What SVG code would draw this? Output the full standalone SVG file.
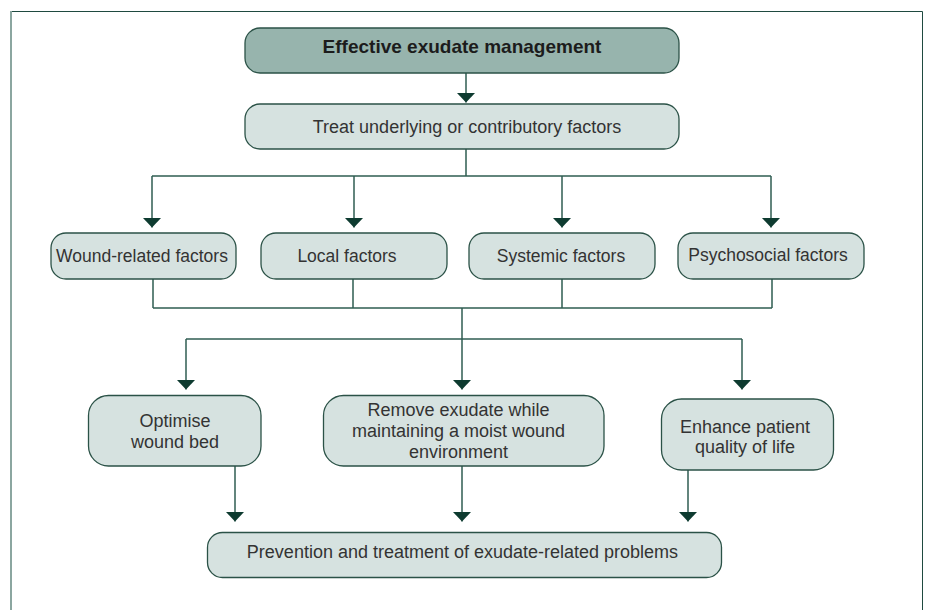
<svg xmlns="http://www.w3.org/2000/svg" width="928" height="610" viewBox="0 0 928 610">
<style>
  .node { fill: #d6e2e0; stroke: #2b5247; stroke-width: 1.3; }
  .title { fill: #97b4ad; stroke: #2b5247; stroke-width: 1.3; }
  .t { font-family: "Liberation Sans", Arial, sans-serif; font-size: 18px; fill: #333333; text-anchor: middle; }
  .tf { font-size: 17.5px; }
  .tb { font-family: "Liberation Sans", Arial, sans-serif; font-size: 19px; font-weight: bold; fill: #1c1c1c; text-anchor: middle; }
  .c { fill: none; stroke: #2f5d52; stroke-width: 1.5; }
</style>
<defs>
  <marker id="ah" viewBox="0 0 10 19" refX="10" refY="9.5" markerWidth="10" markerHeight="19" markerUnits="userSpaceOnUse" orient="auto">
    <path d="M0,0 L10,9.5 L0,19 Z" fill="#0e3b30"/>
  </marker>
</defs>
<rect width="928" height="610" fill="#ffffff"/>
<g id="frame">
  <path d="M11,11.5 H922.5 V610" fill="none" stroke="#1f4a40" stroke-width="1"/>
  <path d="M11,11 V610" fill="none" stroke="#8ba6a0" stroke-width="2"/>
</g>
<g id="connectors">
  <path class="c" d="M466,73 V102.5" marker-end="url(#ah)"/>
  <path class="c" d="M466,149 V176 M152,176 H771"/>
  <path class="c" d="M152,176 V227.5" marker-end="url(#ah)"/>
  <path class="c" d="M354,176 V227.5" marker-end="url(#ah)"/>
  <path class="c" d="M562,176 V227.5" marker-end="url(#ah)"/>
  <path class="c" d="M771,176 V227.5" marker-end="url(#ah)"/>
  <path class="c" d="M153,279 V308 M353,279 V308 M562,279 V308 M772,279 V308 M153,308 H772"/>
  <path class="c" d="M462,308 V389.5" marker-end="url(#ah)"/>
  <path class="c" d="M186,339 H742"/>
  <path class="c" d="M186,339 V389.5" marker-end="url(#ah)"/>
  <path class="c" d="M742,339 V389.5" marker-end="url(#ah)"/>
  <path class="c" d="M235,466 V521.5" marker-end="url(#ah)"/>
  <path class="c" d="M462,466 V521.5" marker-end="url(#ah)"/>
  <path class="c" d="M688,470 V521.5" marker-end="url(#ah)"/>
</g>
<g id="n-effective">
  <rect class="title" x="245" y="28" width="434" height="45" rx="15"/>
  <text class="tb" x="462" y="53">Effective exudate management</text>
</g>
<g id="n-treat">
  <rect class="node" x="245" y="104" width="434" height="45" rx="15"/>
  <text class="t" x="467" y="133">Treat underlying or contributory factors</text>
</g>
<g id="n-wound">
  <rect class="node" x="51" y="233" width="185" height="46" rx="15"/>
  <text class="t tf" x="142" y="262">Wound-related factors</text>
</g>
<g id="n-local">
  <rect class="node" x="261" y="233" width="186" height="46" rx="15"/>
  <text class="t tf" x="347" y="262">Local factors</text>
</g>
<g id="n-systemic">
  <rect class="node" x="469" y="233" width="186" height="46" rx="15"/>
  <text class="t tf" x="561" y="262">Systemic factors</text>
</g>
<g id="n-psycho">
  <rect class="node" x="678" y="233" width="186" height="46" rx="15"/>
  <text class="t tf" x="768" y="261">Psychosocial factors</text>
</g>
<g id="n-optimise">
  <rect class="node" x="88.5" y="395.5" width="172.5" height="70.5" rx="20"/>
  <text class="t" x="175" y="427">Optimise</text>
  <text class="t" x="175" y="448">wound bed</text>
</g>
<g id="n-remove">
  <rect class="node" x="323.5" y="395.5" width="280.5" height="70.5" rx="20"/>
  <text class="t" x="458.5" y="416">Remove exudate while</text>
  <text class="t" x="458.5" y="437">maintaining a moist wound</text>
  <text class="t" x="458.5" y="458">environment</text>
</g>
<g id="n-enhance">
  <rect class="node" x="661.5" y="399" width="172" height="71" rx="20"/>
  <text class="t" x="745" y="432.5">Enhance patient</text>
  <text class="t" x="745" y="452.5">quality of life</text>
</g>
<g id="n-prevention">
  <rect class="node" x="207.5" y="532.5" width="514" height="45" rx="15"/>
  <text class="t" x="462.5" y="557.5">Prevention and treatment of exudate-related problems</text>
</g>
</svg>
